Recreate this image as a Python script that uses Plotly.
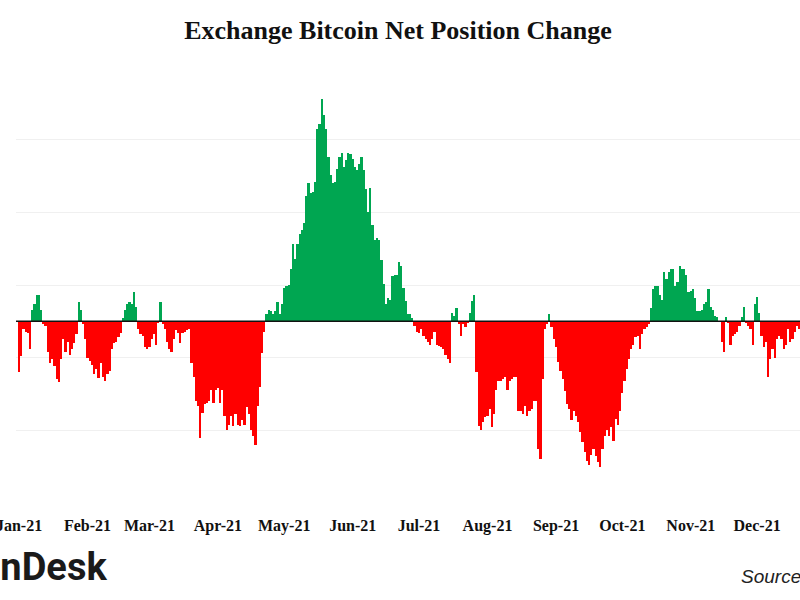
import pandas as pd
import plotly.graph_objects as go

# Daily exchange net position change, thousand BTC, from 2021-01-01
start_date = "2021-01-01"
net_change_kbtc = [
    # Jan (d0-d30)
    -35, -24, -5, -7, -8, -19, 8, 12, 18, 18, 8, -2, -3, -21, -29, -26, -31, -40, -42, -26,
    -12, -21, -14, -23, -19, -15, -9, 13, 8, -2, -12,
    # Feb (d31-d58)
    -25, -27, -30, -36, -33, -39, -29, -38, -41, -36, -34, -19, -15, -14, -11, -8, 2, 8, 12, 13,
    12, 20, 10, -5, -9, -10, -18, -19,
    # Mar (d59-d89)
    -18, -12, -9, -16, -1, 13, -2, -5, -14, -19, -21, -12, -6, -8, -15, -8, -7, -6, -5, -29,
    -38, -55, -58, -80, -63, -57, -56, -55, -47, -56, -47,
    # Apr (d90-d119)
    -46, -56, -47, -65, -75, -71, -65, -72, -64, -71, -72, -68, -71, -59, -64, -75, -79, -85, -58, -45,
    -22, -7, 5, 8, 7, 5, 7, 13, 5, 12,
    # May (d120-d150)
    23, 24, 25, 36, 53, 43, 53, 60, 63, 68, 86, 95, 88, 89, 96, 132, 136, 153, 142, 132,
    113, 101, 95, 96, 105, 113, 116, 106, 111, 116, 115,
    # Jun (d151-d180)
    112, 106, 104, 108, 113, 104, 91, 75, 92, 66, 56, 57, 56, 42, 26, 12, 16, 15, 31, 32,
    32, 41, 38, 23, 14, 5, 5, 2, -3, -7,
    # Jul (d181-d211)
    -8, -5, -10, -12, -14, -16, -12, -7, -16, -17, -18, -19, -23, -26, -29, 6, 4, 9, -2, -10,
    -2, -4, -1, 6, 14, 18, -35, -72, -75, -69, -66,
    # Aug (d212-d242)
    -65, -60, -73, -64, -47, -41, -41, -40, -38, -47, -41, -40, -38, -38, -62, -62, -64, -58, -65, -62,
    -60, -55, -55, -88, -95, -40, -5, -2, 5, -4, -12,
    # Sep (d243-d272)
    -18, -28, -34, -40, -48, -57, -60, -68, -62, -65, -69, -76, -83, -90, -96, -99, -92, -88, -93, -97,
    -100, -88, -79, -75, -79, -73, -82, -67, -71, -62,
    # Oct (d273-d303)
    -49, -41, -33, -26, -19, -16, -11, -10, -19, -9, -5, -4, -2, 9, 22, 24, 24, 18, 15, 34,
    29, 34, 36, 36, 24, 27, 38, 36, 36, 32, 20,
    # Nov (d304-d333)
    21, 22, 16, 7, 7, 8, 12, 13, 22, 10, 8, 4, 3, 0, -14, -21, 3, -1, -16, -10,
    -9, -7, -3, 3, 10, -1, -3, -5, -16, 12,
    # Dec (d334-d353)
    17, 6, -10, -18, -14, -38, -26, -19, -25, -12, -10, -12, -19, -16, -5, -14, -12, -7, -3, -5,
]

month_ticks = ["2021-%02d-01" % m for m in range(1, 13)]
gridline_vals = [-125, -75, -25, 25, 75, 125, 175]

dates = pd.date_range(start_date, periods=len(net_change_kbtc), freq="D")
colors = ["#00a651" if v >= 0 else "#ff0000" for v in net_change_kbtc]

fig = go.Figure(
    go.Bar(
        x=dates,
        y=net_change_kbtc,
        marker=dict(color=colors, line=dict(width=0)),
        width=86400000,
        hoverinfo="skip",
    )
)

W, H = 800, 600
L, R, T, B = 16, 0, 67, 97
pw = W - L - R
ph = H - T - B


def px_x(page_x):
    return (page_x - L) / pw


def px_y(page_y):
    return (H - B - page_y) / ph


fig.update_layout(
    width=W,
    height=H,
    margin=dict(l=L, r=R, t=T, b=B, autoexpand=False),
    paper_bgcolor="white",
    plot_bgcolor="white",
    bargap=0,
    showlegend=False,
    hovermode=False,
    title=dict(
        text="Exchange Bitcoin Net Position Change",
        x=398 / W,
        xanchor="center",
        y=1 - 30 / H,
        yanchor="middle",
        font=dict(family="Liberation Serif", size=26, color="#111111", weight="bold"),
    ),
    xaxis=dict(
        type="date",
        range=["2020-12-30 15:00", "2021-12-20 10:00"],
        tickvals=month_ticks,
        tickformat="%b-%y",
        tickfont=dict(family="Liberation Serif", size=16, color="#111111", weight="bold"),
        ticks="outside",
        ticklen=8,
        tickcolor="rgba(0,0,0,0)",
        ticklabeloverflow="allow",
        showgrid=False,
        showline=False,
        zeroline=False,
        automargin=False,
        fixedrange=True,
    ),
    yaxis=dict(
        range=[-125, 175],
        tickvals=gridline_vals,
        showticklabels=False,
        showgrid=True,
        gridcolor="#f0f0f0",
        gridwidth=1,
        zeroline=False,
        showline=False,
        automargin=False,
        fixedrange=True,
    ),
    shapes=[
        dict(
            type="line", xref="paper", x0=0, x1=1, yref="y", y0=0, y1=0,
            line=dict(color="#111111", width=1.5), layer="above",
        )
    ],
    annotations=[
        dict(
            text="CoinDesk",
            xref="paper", yref="paper",
            x=px_x(109), y=px_y(567),
            xanchor="right", yanchor="middle",
            showarrow=False,
            font=dict(family="Roboto", size=38, color="#1a1a1a", weight="bold"),
        ),
        dict(
            text="Source: Glassnode",
            xref="paper", yref="paper",
            x=px_x(739), y=px_y(576),
            xanchor="left", yanchor="middle",
            showarrow=False,
            font=dict(family="Liberation Sans", size=19, color="#222222", style="italic"),
        ),
    ],
)

fig.write_html(
    "out.html",
    config={"displayModeBar": False},
    post_script=(
        "document.body.style.margin='0';"
        "document.body.style.overflow='hidden';"
        "document.documentElement.style.overflow='hidden';"
    ),
)
